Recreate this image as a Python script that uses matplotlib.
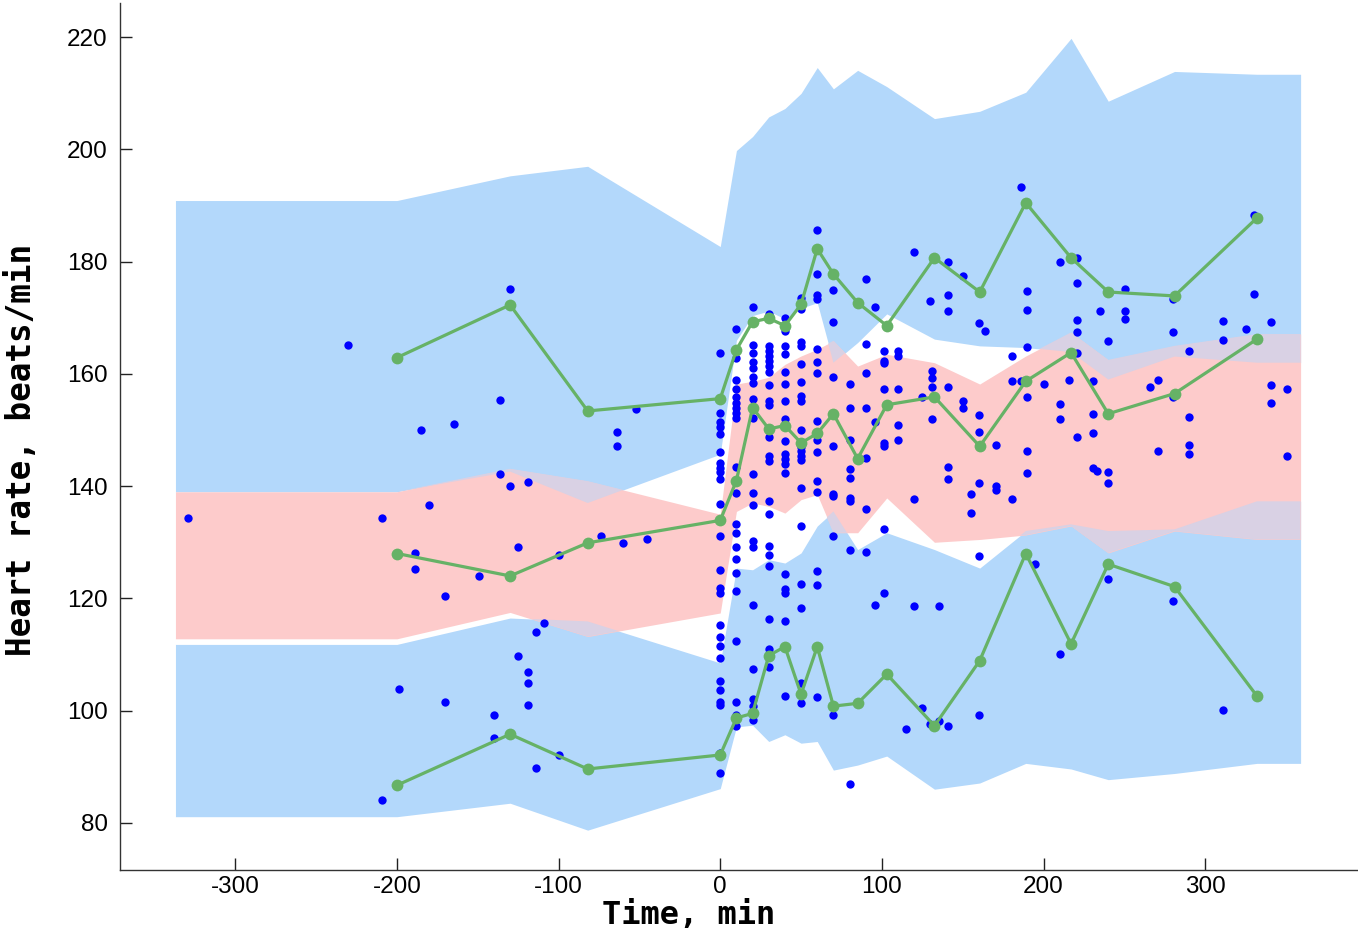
import numpy as np
import matplotlib
matplotlib.use("Agg")
import matplotlib.pyplot as plt

plt.rcParams["axes.unicode_minus"] = False

# ---------------- data ----------------
# time bins (min) of the percentile curves
bin_t = [-200, -130, -82, 0, 10, 20, 30, 40, 50, 60, 70, 85, 103, 132.5, 160.5, 189, 217, 240, 281, 332]
# observed percentiles (green curves)
p95 = [162.9, 172.3, 153.4, 155.6, 164.3, 169.3, 169.9, 168.6, 172.4, 182.3, 177.8, 172.7, 168.6, 180.7, 174.6, 190.5, 180.7, 174.6, 173.9, 187.8]
p50 = [128.0, 124.0, 129.9, 133.9, 141.0, 154.0, 150.2, 150.8, 147.7, 149.4, 152.9, 144.9, 154.5, 155.9, 147.1, 158.7, 163.8, 152.9, 156.5, 166.2]
p05 = [86.7, 95.8, 89.6, 92.1, 98.7, 99.5, 109.8, 111.4, 102.9, 111.4, 100.8, 101.3, 106.5, 97.3, 108.9, 128.0, 111.9, 126.1, 122.1, 102.6]

# prediction intervals (bands)
band_left, band_right = -337, 359
hi_top = [190.9, 195.3, 197.0, 182.7, 199.8, 202.3, 205.8, 207.3, 210.0, 214.6, 210.8, 214.1, 211.2, 205.5, 206.8, 210.2, 219.8, 208.6, 213.9, 213.4]
hi_bot = [139.0, 142.6, 137.0, 145.7, 166.0, 170.4, 171.2, 169.8, 171.7, 172.7, 162.0, 165.6, 170.7, 166.2, 165.0, 164.7, 163.9, 159.0, 163.1, 162.0]
mid_top = [139.0, 143.1, 140.9, 135.0, 158.2, 158.7, 159.4, 161.7, 163.2, 164.4, 165.9, 161.4, 163.5, 162.0, 158.2, 163.2, 167.4, 162.5, 165.0, 167.1]
mid_bot = [112.8, 117.5, 113.2, 117.4, 135.5, 137.0, 136.4, 135.2, 137.6, 138.5, 131.7, 131.7, 137.9, 130.0, 130.5, 131.3, 132.9, 128.1, 132.0, 130.5]
lo_top = [111.8, 116.5, 115.9, 108.5, 125.4, 125.1, 126.9, 126.3, 128.1, 132.9, 135.5, 128.7, 131.7, 128.7, 125.4, 132.0, 133.2, 132.0, 132.3, 137.3]
lo_bot = [81.1, 83.5, 78.7, 86.1, 97.1, 97.4, 94.5, 95.7, 94.2, 94.5, 89.4, 90.3, 91.9, 86.0, 87.1, 90.6, 89.6, 87.7, 88.8, 90.6]

# observations before the start (time, heart rate)
pre_t = [-329, -230, -209, -209, -199, -189, -189, -185, -180, -170, -170, -165, -149, -140, -140,
         -136, -136, -130, -130, -125, -125, -119, -119, -119, -119, -114, -114, -109, -100, -100,
         -74, -64, -64, -60, -52, -45]
pre_hr = [134.4, 165.1, 134.4, 84.1, 103.9, 128.1, 125.3, 150.0, 136.7, 120.4, 101.6, 151.0, 124.0, 99.2, 95.1,
          155.4, 142.1, 175.1, 140.0, 129.1, 109.8, 140.8, 106.9, 105.0, 101.0, 114.0, 89.7, 115.6, 127.8, 92.1,
          131.1, 149.7, 147.1, 129.9, 153.7, 130.5]

# dense sampling columns after time 0
hr_t0 = [163.8, 153.0, 151.5, 150.5, 149.3, 146.0, 144.1, 143.2, 142.6, 141.3, 136.8, 131.2, 125.1, 121.9, 121.0,
         115.3, 113.2, 111.6, 109.3, 105.3, 103.7, 101.6, 101.0, 92.4, 88.9]
hr_t10 = [168.0, 162.9, 159.0, 157.3, 155.8, 154.9, 154.0, 153.1, 152.2, 143.5, 138.8, 133.2, 131.7, 129.1, 127.0,
          124.5, 121.4, 112.4, 101.6, 99.3, 97.3]
hr_t20 = [172.0, 165.2, 163.8, 162.1, 161.0, 159.4, 158.4, 155.5, 152.2, 142.1, 138.7, 136.6, 130.2, 129.1, 118.8,
          107.4, 102.0, 100.9, 98.4]
hr_t30 = [170.7, 165.0, 164.1, 163.2, 162.3, 161.4, 160.4, 158.0, 155.2, 154.4, 150.3, 148.7, 145.4, 144.5, 137.3,
          135.0, 129.3, 127.7, 125.7, 116.4, 110.9, 107.7]
hr_t40 = [170.0, 167.7, 165.0, 163.5, 160.3, 158.2, 155.1, 152.0, 148.1, 145.7, 144.8, 143.9, 142.4, 124.4, 121.6,
          120.9, 115.9, 102.6]
hr_t50 = [173.6, 171.5, 165.7, 165.0, 161.7, 158.5, 156.1, 155.2, 150.0, 147.0, 146.3, 145.4, 144.6, 139.7, 132.9,
          122.6, 118.3, 105.0, 101.3]
hr_t60 = [185.7, 177.8, 174.1, 173.3, 164.5, 162.2, 160.1, 151.7, 148.2, 146.0, 141.0, 138.9, 124.8, 122.4, 102.5]
hr_t70 = [174.9, 169.3, 159.5, 147.2, 138.6, 138.2, 131.1, 99.2]
hr_t80 = [158.2, 154.0, 148.2, 143.0, 141.5, 137.9, 137.3, 128.7, 87.0]
hr_t90 = [177.0, 165.3, 160.1, 154.0, 145.1, 136.0, 128.3]

# later sparse observations (time, heart rate)
post_t = [96, 96, 96, 101, 101, 101, 101, 101, 101, 101, 101, 110, 110, 110, 110, 110,
          115, 120, 120, 120, 125, 125, 130, 131, 131, 131, 131, 130, 135.5, 135.5,
          140.6, 140.6, 140.6, 140.6, 140.6, 140.6, 140.6, 150, 150, 150, 155, 155,
          160, 160, 160, 160, 160, 160, 164, 170.5, 170.5, 170.5, 180.6, 180.6, 180.6,
          185.8, 185.8, 190, 190, 190, 190, 190, 190, 195, 200, 210, 210, 210, 210, 215.5,
          220.5, 220.5, 220.5, 220.5, 220.5, 220.5, 230.7, 230.7, 230.7, 230.7, 232.8, 235,
          240, 240, 240, 240, 250.4, 250.4, 250.4, 265.6, 270.8, 270.8, 280, 280, 280, 280,
          290, 290, 290, 290, 310.8, 310.8, 310.8, 325, 330, 330, 340.4, 340.4, 340.4, 350.5, 350.5]
post_hr = [172.0, 151.4, 118.8, 164.0, 162.3, 161.9, 157.4, 147.7, 147.2, 132.3, 120.9, 164.0, 163.2, 157.4, 150.9, 148.2,
           96.8, 181.7, 137.8, 118.7, 155.9, 100.5, 173.0, 160.5, 159.2, 157.7, 151.9, 97.6, 118.7, 98.2,
           179.9, 174.1, 171.2, 157.7, 143.4, 141.3, 97.3, 177.5, 155.1, 154.0, 138.6, 135.2,
           169.1, 152.6, 149.7, 140.5, 127.6, 99.2, 167.7, 147.4, 140.1, 139.4, 163.2, 158.7, 137.8,
           193.4, 158.7, 174.8, 171.4, 164.8, 155.9, 146.2, 142.4, 126.2, 158.2, 179.9, 154.7, 151.9, 110.1, 159.0,
           180.7, 176.2, 169.6, 167.4, 163.8, 148.7, 158.7, 152.9, 149.5, 143.3, 142.7, 171.2,
           165.9, 142.6, 140.5, 123.5, 175.1, 171.2, 169.8, 157.7, 158.9, 146.2, 173.4, 167.4, 155.8, 119.6,
           164.0, 152.4, 147.3, 145.8, 169.5, 166.1, 100.2, 168.0, 188.4, 174.3, 169.3, 158.0, 154.8, 157.4, 145.3]

column_times = [0, 10, 20, 30, 40, 50, 60, 70, 80, 90]
column_hrs = [hr_t0, hr_t10, hr_t20, hr_t30, hr_t40, hr_t50, hr_t60, hr_t70, hr_t80, hr_t90]

# ---------------- style ----------------
BLUE = "#b3d8fb"
PINK = "#fdcbcb"
LAV = "#d9d1e4"
GREEN = "#66b266"
DOT = "#0000ff"

W, H = 1358, 933
fig = plt.figure(figsize=(W / 100, H / 100), dpi=100)
ax = fig.add_axes([120 / W, 1 - 870 / H, 1 - 120 / W, (870 - 3) / H])

bx = np.array([band_left] + bin_t + [band_right], dtype=float)
xf = np.unique(np.concatenate([np.linspace(bx[0], bx[-1], 8000), bx]))


def dense(v):
    return np.interp(xf, bx, np.array([v[0]] + list(v) + [v[-1]], dtype=float))


ht, hb, mt, mb, lt, lb = (dense(v) for v in (hi_top, hi_bot, mid_top, mid_bot, lo_top, lo_bot))

ax.fill_between(xf, hb, ht, color=BLUE, lw=0, zorder=1)
ax.fill_between(xf, lb, lt, color=BLUE, lw=0, zorder=1)
ax.fill_between(xf, mb, mt, color=PINK, lw=0, zorder=1.5)
o1_lo, o1_hi = np.maximum(hb, mb), np.minimum(ht, mt)
ax.fill_between(xf, o1_lo, o1_hi, where=o1_hi > o1_lo, interpolate=True, color=LAV, lw=0, zorder=2)
o2_lo, o2_hi = np.maximum(lb, mb), np.minimum(lt, mt)
ax.fill_between(xf, o2_lo, o2_hi, where=o2_hi > o2_lo, interpolate=True, color=LAV, lw=0, zorder=2)

# observations
obs_t = list(pre_t) + list(post_t)
obs_hr = list(pre_hr) + list(post_hr)
for t, vals in zip(column_times, column_hrs):
    obs_t += [t] * len(vals)
    obs_hr += list(vals)
ax.plot(obs_t, obs_hr, linestyle="none", marker="o", markersize=6.0, color=DOT,
        markeredgewidth=0, zorder=3)

for series in (p95, p50, p05):
    ax.plot(bin_t, series, color=GREEN, lw=2.3, marker="o", markersize=8.5,
            markeredgewidth=0, zorder=4)

ax.set_xlim(-371.3, 394.5)
ax.set_ylim(71.6, 226.1)
ax.set_xticks([-300, -200, -100, 0, 100, 200, 300])
ax.set_yticks([80, 100, 120, 140, 160, 180, 200, 220])
ax.tick_params(direction="in", length=8.5, width=1, labelsize=17.5, colors="#222222")
ax.tick_params(axis="x", pad=4)
ax.tick_params(axis="y", pad=9)
for lab in ax.get_xticklabels() + ax.get_yticklabels():
    lab.set_color("black")
    lab.set_family("Liberation Sans")
for s in ("top", "right"):
    ax.spines[s].set_visible(False)
for s in ("left", "bottom"):
    ax.spines[s].set_color("#333333")
    ax.spines[s].set_linewidth(1.0)

ax.set_xlabel("Time, min", fontsize=23, fontweight="bold", family="DejaVu Sans Mono")
ax.xaxis.set_label_coords((688.5 - 120) / (W - 120), (870 - 899.5) / 867)
ax.set_ylabel("Heart rate, beats/min", fontsize=23.5, fontweight="bold", family="DejaVu Sans Mono")
ax.yaxis.set_label_coords((38 - 120) / (W - 120), (870 - 450) / 867)

fig.savefig("out.png", dpi=100)
